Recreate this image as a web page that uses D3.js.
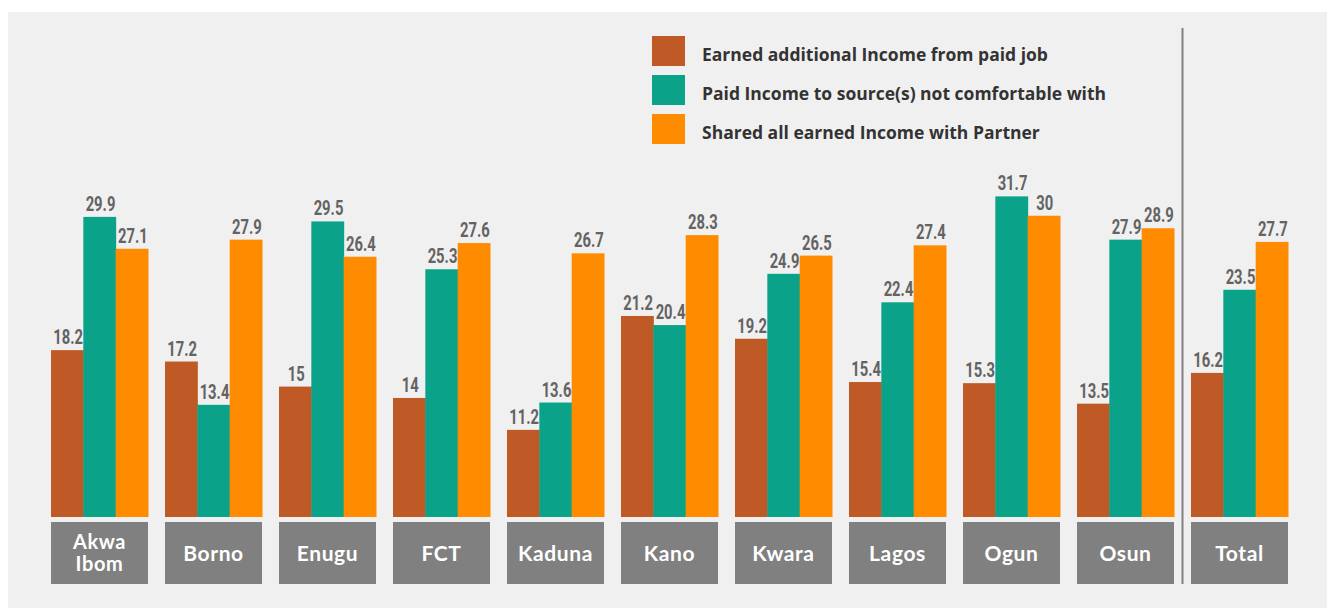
<!DOCTYPE html>
<html>
<head>
<meta charset="utf-8">
<script src="https://cdn.jsdelivr.net/npm/d3@7"></script>
<style>
    html, body { margin: 0; padding: 0; background: #ffffff; }
    svg { display: block; }
</style>
</head>
<body>
<svg id="chart" width="1327" height="608"></svg>
<script>
(function () {
    'use strict';

    // --- Data ------------------------------------------------------------

    var categories = ['Akwa Ibom', 'Borno', 'Enugu', 'FCT', 'Kaduna', 'Kano',
        'Kwara', 'Lagos', 'Ogun', 'Osun', 'Total'];

    var seriesNames = [
        'Earned additional Income from paid job',
        'Paid Income to source(s) not comfortable with',
        'Shared all earned Income with Partner'
    ];

    var earnedJob   = [18.2, 17.2, 15, 14, 11.2, 21.2, 19.2, 15.4, 15.3, 13.5, 16.2];
    var paidSource  = [29.9, 13.4, 29.5, 25.3, 13.6, 20.4, 24.9, 22.4, 31.7, 27.9, 23.5];
    var sharedAll   = [27.1, 27.9, 26.4, 27.6, 26.7, 28.3, 26.5, 27.4, 30, 28.9, 27.7];

    var colors = ['#bf5a27', '#0aa38a', '#ff8c00'];

    // --- Layout ----------------------------------------------------------

    var svg = d3.select('#chart');
    var baseY = 517;

    var series = [earnedJob, paidSource, sharedAll];

    // background panel
    svg.append('rect')
        .attr('x', 8).attr('y', 12)
        .attr('width', 1327 - 8).attr('height', 608 - 12)
        .attr('fill', '#f0f0f0');

    var x = d3.scaleBand()
        .domain(categories)
        .range([51, 1288])
        .paddingInner(17 / 114)
        .paddingOuter(0);

    var xs = d3.scaleBand()
        .domain(d3.range(series.length))
        .range([0, x.bandwidth()]);

    // the source chart is not zero based; fitted from bar heights
    var y = d3.scaleLinear()
        .domain([3.55, 32])
        .range([baseY, baseY - 11.39 * (32 - 3.55)]);

    // --- Bars ------------------------------------------------------------

    var groups = svg.append('g').selectAll('g')
        .data(categories)
        .join('g')
        .attr('transform', function (d) { return 'translate(' + x(d) + ',0)'; });

    groups.each(function (cat, ci) {
        var g = d3.select(this);
        var vals = series.map(function (s, si) { return { si: si, v: s[ci] }; });

        g.selectAll('rect.bar')
            .data(vals)
            .join('rect')
            .attr('class', 'bar')
            .attr('x', function (d) { return xs(d.si); })
            .attr('y', function (d) { return y(d.v); })
            .attr('width', xs.bandwidth() + 0.5)
            .attr('height', function (d) { return baseY - y(d.v); })
            .attr('fill', function (d) { return colors[d.si]; });

        g.selectAll('text.val')
            .data(vals)
            .join('text')
            .attr('class', 'val')
            .attr('transform', function (d) {
                return 'translate(' + (xs(d.si) + xs.bandwidth() / 2 + 1) + ',' +
                    (y(d.v) - 6) + ') scale(0.74,1)';
            })
            .attr('text-anchor', 'middle')
            .attr('font-family', 'Roboto, sans-serif')
            .attr('font-weight', 700)
            .attr('font-size', 20)
            .attr('fill', '#636363')
            .text(function (d) { return d.v; });

        // category box
        g.append('rect')
            .attr('x', 0).attr('y', 522)
            .attr('width', x.bandwidth()).attr('height', 62)
            .attr('fill', '#808080');

        var words = cat === 'Akwa Ibom' ? ['Akwa', 'Ibom'] : [cat];
        var lineY = words.length > 1 ? [549, 571] : [561];

        g.selectAll('text.cat')
            .data(words)
            .join('text')
            .attr('class', 'cat')
            .attr('x', x.bandwidth() / 2)
            .attr('y', function (d, i) { return lineY[i]; })
            .attr('text-anchor', 'middle')
            .attr('font-family', 'Lato, sans-serif')
            .attr('font-weight', 700)
            .attr('font-size', words.length > 1 ? 20 : 21)
            .attr('letter-spacing', 0.6)
            .attr('fill', '#ffffff')
            .text(function (d) { return d; });
    });

    // separator before Total
    var sepX = (x('Osun') + x.bandwidth() + x('Total')) / 2;
    svg.append('line')
        .attr('x1', sepX).attr('x2', sepX)
        .attr('y1', 28).attr('y2', 584)
        .attr('stroke', '#808080')
        .attr('stroke-width', 2);

    // --- Legend ----------------------------------------------------------

    var legend = svg.append('g').attr('transform', 'translate(652,36)');
    var items = legend.selectAll('g')
        .data(seriesNames)
        .join('g')
        .attr('transform', function (d, i) { return 'translate(0,' + (i * 39) + ')'; });

    items.append('rect')
        .attr('width', 33).attr('height', 30)
        .attr('fill', function (d, i) { return colors[i]; });

    items.append('text')
        .attr('x', 50).attr('y', 25)
        .attr('font-family', '"Open Sans", sans-serif')
        .attr('font-weight', 700)
        .attr('font-size', 17.5)
        .attr('fill', '#333333')
        .text(function (d) { return d; });
}());
</script>
</body>
</html>
